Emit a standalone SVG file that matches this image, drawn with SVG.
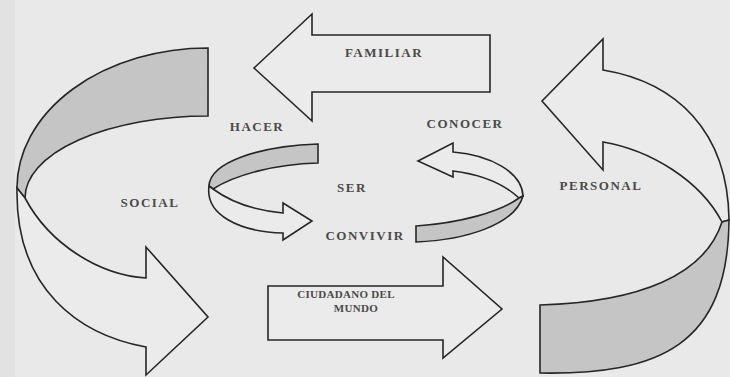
<svg xmlns="http://www.w3.org/2000/svg" width="730" height="377" viewBox="0 0 730 377">
<style>
.ln{fill:none;stroke:#262626;stroke-width:1.6;stroke-linejoin:miter}
.wh{fill:#ebebeb;stroke:#262626;stroke-width:1.6;stroke-linejoin:miter}
.sh{fill:#c5c5c5;stroke:#262626;stroke-width:1.6;stroke-linejoin:miter}
.t{font-family:"Liberation Serif","Times New Roman",serif;font-weight:bold;font-size:13px;letter-spacing:1.5px;fill:#4a4a4a;text-anchor:middle}
.t2{font-family:"Liberation Serif","Times New Roman",serif;font-weight:bold;font-size:11px;letter-spacing:0.3px;fill:#4a4a4a;text-anchor:middle}
</style>
<rect x="0" y="0" width="730" height="377" fill="#e9e9e9"/>
<rect x="0" y="0" width="15" height="377" fill="#e2e2e2"/>

<g id="social">
<path class="sh" d="M208,48 A191,140 0 0 0 17,188 L25,198 A183,82 0 0 1 208,116 Z"/>
<path class="wh" d="M17,188 C15,290 80,335 146,347 L146,375 L208,317 L146,247 L146,278 C100,275 50,245 25,198 Z"/>
<text class="t" x="150" y="207">SOCIAL</text>
</g>

<g id="personal">
<path class="wh" d="M603,70 C675,82 728,130 729,220 L722,222 C700,180 650,150 603,142 L603,170 L542,101 L603,39 Z"/>
<path class="sh" d="M722,222 C705,275 640,302 540,305 L540,373 C660,375 728,345 729,220 Z"/>
<text class="t" x="601" y="190">PERSONAL</text>
</g>

<g id="familiar">
<path class="wh" d="M490,35 L312,35 L312,14 L254,68 L312,121 L312,92 L490,92 Z"/>
<text class="t" x="384" y="57">FAMILIAR</text>
</g>

<g id="ciudadano">
<path class="wh" d="M268,286 L443,286 L443,257 L502,309 L443,358 L443,340 L268,340 Z"/>
<text class="t2" x="346" y="298">CIUDADANO DEL</text>
<text class="t2" x="356" y="312">MUNDO</text>
</g>

<g id="hacer-convivir">
<path class="sh" d="M318,144 C260,146 210,162 209,186 L213,189 C235,175 275,164 318,163 Z"/>
<path class="wh" d="M209,186 C205,215 240,232 283,233 L283,240 L312,221 L283,203 L283,213 C250,210 228,200 213,189 Z"/>
</g>

<g id="conocer-arrow">
<path class="wh" d="M453,152 C490,155 522,172 523,196 L519,198 C505,185 485,175 453,171 L453,177 L418,161 L453,143 Z"/>
<path class="sh" d="M519,198 C500,212 460,223 416,226 L416,242 C465,240 515,225 523,196 Z"/>
</g>

<g id="labels">
<text class="t" x="257" y="131">HACER</text>
<text class="t" x="465" y="128">CONOCER</text>
<text class="t" x="352" y="192">SER</text>
<text class="t" x="365" y="240">CONVIVIR</text>
</g>
</svg>
